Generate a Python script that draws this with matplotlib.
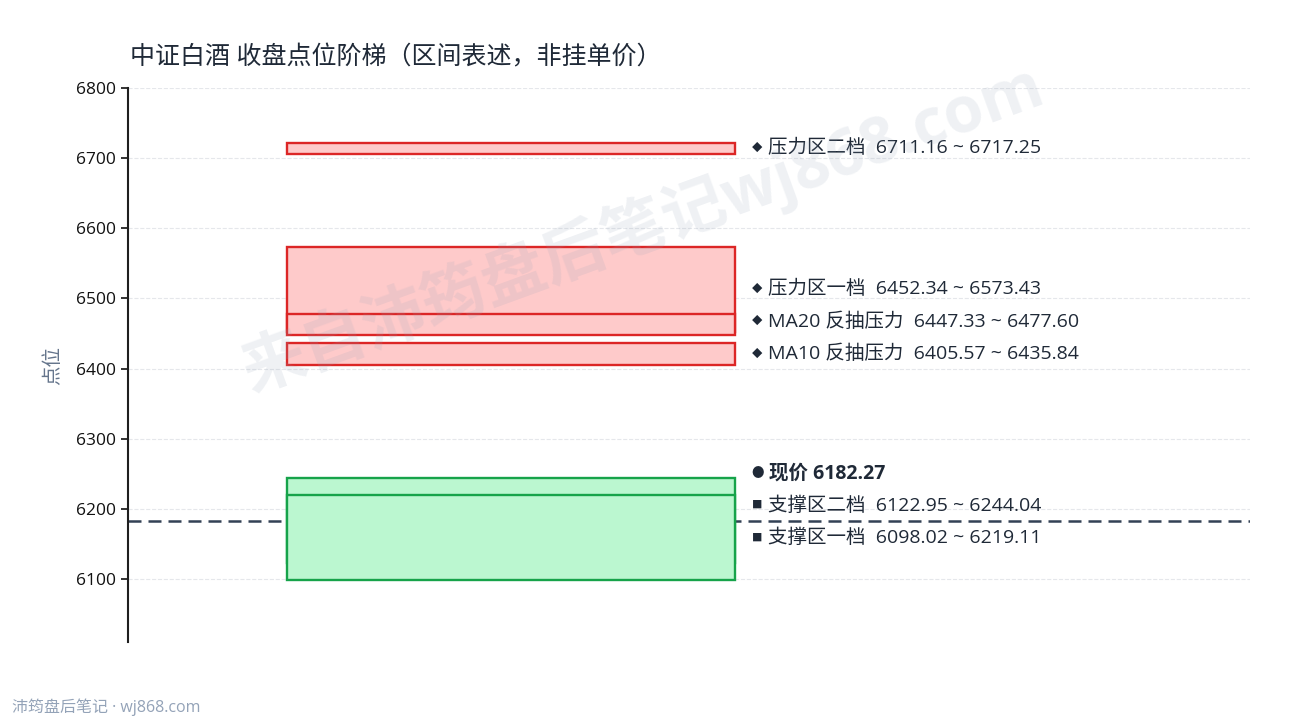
import matplotlib
matplotlib.use('Agg')
from matplotlib import pyplot as plt
from matplotlib import transforms

plt.rcParams['font.family'] = ['Open Sans', 'Noto Sans CJK SC', 'DejaVu Sans']

# 区间数据
zone_names = ['压力区二档', '压力区一档', 'MA20 反抽压力', 'MA10 反抽压力', '支撑区二档', '支撑区一档']
zone_lo = [6711.16, 6452.34, 6447.33, 6405.57, 6122.95, 6098.02]
zone_hi = [6717.25, 6573.43, 6477.60, 6435.84, 6244.04, 6219.11]
zone_kind = ['resist', 'resist', 'resist', 'resist', 'support', 'support']
price = 6182.27
yticks = [6100, 6200, 6300, 6400, 6500, 6600, 6700, 6800]

fig = plt.figure(figsize=(12.9, 7.2), dpi=100)
ax = fig.add_axes([0.0992, 0.1083, 0.8698, 0.7695])

styles = {'resist': ('#fecaca', '#dc2626', '◆'), 'support': ('#bbf7d0', '#16a34a', '■')}

ax.axhline(price, color='#334155', lw=1.8, ls=(0, (5.2, 2.8)), zorder=1)

min_h = 16  # 太窄的区间给个最小显示高度
for name, lo, hi, kind in zip(zone_names, zone_lo, zone_hi, zone_kind):
    fc, ec, _ = styles[kind]
    b, h = lo, hi - lo
    if h < min_h:
        b, h = (lo + hi) / 2 - min_h / 2, min_h
    ax.bar(0.142, h, bottom=b, width=0.399, align='edge',
           facecolor=fc, edgecolor=ec, linewidth=1.7, zorder=2)

# 标签自下而上排列，避免重叠
sup = sorted([i for i in range(len(zone_names)) if zone_kind[i] == 'support'],
             key=lambda i: zone_lo[i] + zone_hi[i])
res = sorted([i for i in range(len(zone_names)) if zone_kind[i] == 'resist'],
             key=lambda i: zone_lo[i] + zone_hi[i])
order = sup + ['price'] + res
gap = 46
trans = transforms.blended_transform_factory(ax.transAxes, ax.transData)
last = -1e9
for item in order:
    if item == 'price':
        y = max(price, last + gap)
        ax.text(0.556, y, '●', transform=trans, va='center', ha='left',
                fontsize=9, color='#1f2937')
        ax.text(0.571, y, '现价 %.2f' % price, transform=trans, va='center',
                fontsize=14, fontweight='bold', color='#1f2937')
    else:
        mid = (zone_lo[item] + zone_hi[item]) / 2
        y = max(mid, last + gap)
        mk = styles[zone_kind[item]][2]
        ax.text(0.556, y, mk, transform=trans, va='center', ha='left',
                fontsize=7.5, color='#1f2937')
        ax.text(0.570, y, '%s  %.2f ~ %.2f' % (zone_names[item], zone_lo[item], zone_hi[item]),
                transform=trans, va='center', fontsize=14, color='#1f2937')
    last = y

ax.set_xlim(0, 1)
ax.set_ylim(6010, 6800)
ax.set_yticks(yticks)
ax.set_xticks([])
ax.grid(axis='y', color='#e5e7eb', ls='--', lw=0.8, zorder=0)
for s in ['top', 'right', 'bottom']:
    ax.spines[s].set_visible(False)
ax.spines['left'].set_color('#1f1f1f')
ax.spines['left'].set_linewidth(1.5)
ax.tick_params(axis='y', labelsize=12.5, length=5, width=1.2, colors='#111111')
ax.set_ylabel('点位', fontsize=14, color='#64748b', labelpad=10)

fig.text(0.1008, 0.919, '中证白酒 收盘点位阶梯（区间表述，非挂单价）', fontsize=18,
         color='#1f2937', va='center', ha='left')
fig.text(0.009, 0.018, '沛筠盘后笔记 · wj868.com', fontsize=11.5, color='#94a3b8',
         va='center', ha='left')
# 水印
fig.text(0.498, 0.683, '来自沛筠盘后笔记wj868.com', fontsize=46, fontweight='bold',
         color='#94a3b8', alpha=0.15, rotation=20, ha='center', va='center', zorder=10)

plt.savefig('out.png', dpi=100)
